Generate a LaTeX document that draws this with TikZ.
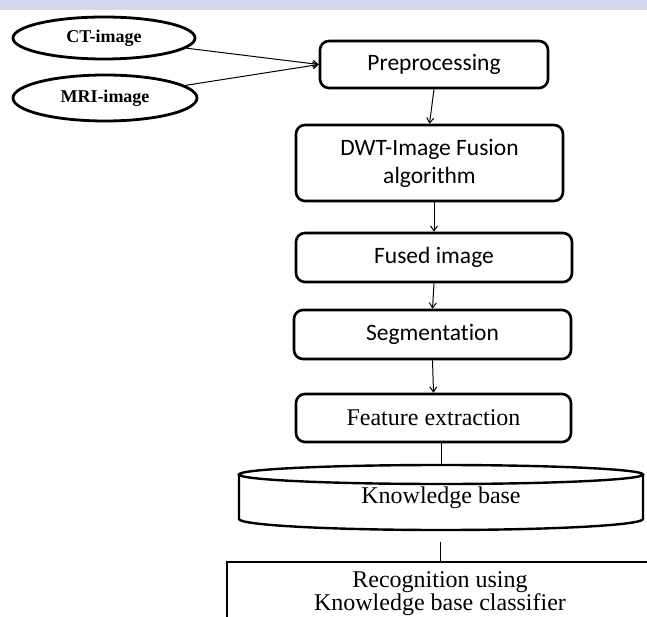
\documentclass[tikz,border=0pt]{standalone}
\usepackage{fontspec}
\setmainfont{Liberation Serif}
\newfontfamily\calibrifont[Ligatures=NoCommon]{Carlito}
\usetikzlibrary{shapes.geometric,arrows.meta,calc}
\definecolor{bandcol}{HTML}{D3D8EA}
\tikzset{
  box/.style={draw, line width=2.6pt, rounded corners=9pt, inner sep=0pt, align=center},
  sbox/.style={box, font=\calibrifont\fontsize{23.5}{28}\selectfont},
  rbox/.style={box, font=\fontsize{24}{20}\selectfont},
  oval/.style={draw, ellipse, line width=2.8pt, inner sep=0pt, font=\bfseries\fontsize{18}{18}\selectfont},
  arr/.style={line width=1pt, -{Straight Barb[length=5pt,width=7pt]}},
  plain/.style={line width=1pt},
  cyl/.style={line width=2.4pt}
}
\begin{document}
\begin{tikzpicture}[x=1pt,y=-1pt]
\useasboundingbox (0,0) rectangle (647,617);
\clip (0,0) rectangle (647,617);
\fill[bandcol] (0,0) rectangle (647,10);
% inputs
\node[oval, minimum width=182pt, minimum height=42pt] (ct) at (104,38) {\raisebox{2pt}{CT-image}};
\node[oval, minimum width=184pt, minimum height=46pt] (mri) at (105,98) {MRI-image};
% process boxes
\node[sbox, minimum width=228pt, minimum height=47pt] (pre) at (434,64.5) {Preprocessing};
\node[sbox, minimum width=267pt, minimum height=76pt] (dwt) at (429.5,163) {DWT-Image Fusion\\algorithm};
\node[sbox, minimum width=276pt, minimum height=49pt] (fused) at (434,257.5) {Fused image};
\node[sbox, minimum width=277pt, minimum height=49pt] (seg) at (432.5,334.5) {Segmentation};
\node[rbox, minimum width=275pt, minimum height=48pt] (fe) at (433.5,418) {Feature extraction};
% knowledge base cylinder
\node[inner sep=0pt, minimum width=404pt, minimum height=65pt, font=\fontsize{24}{24}\selectfont] (kb) at (441,497.5) {\raisebox{-3pt}{Knowledge base}};
\draw[cyl] ($(kb.center)+(0,-23)$) ellipse [x radius=202pt, y radius=9.5pt];
\draw[cyl] ($(kb.center)+(-202,-23)$) -- ($(kb.center)+(-202,21.5)$)
   arc[start angle=180, end angle=360, x radius=202pt, y radius=11pt]
   -- ($(kb.center)+(202,-23)$);
% recognition
\node[draw, line width=2.4pt, inner sep=0pt, align=center, minimum width=426pt, minimum height=64pt, font=\fontsize{24}{20}\selectfont] (rec) at (440,594) {Recognition using\\Knowledge base classifier};
% connectors
\draw[arr] (ct) -- (pre.west);
\draw[arr] (mri) -- (pre.west);
\draw[arr] (pre.south) -- (dwt.north);
\draw[arr] (dwt.south -| fused.north) -- (fused.north);
\draw[arr] (fused.south) -- (seg.north);
\draw[arr] (seg.south) -- (fe.north);
\draw[plain] (fe.south -| kb.north) -- (kb.north);
\draw[plain] ([yshift=19pt]rec.north) -- (rec.north);
\end{tikzpicture}
\end{document}
